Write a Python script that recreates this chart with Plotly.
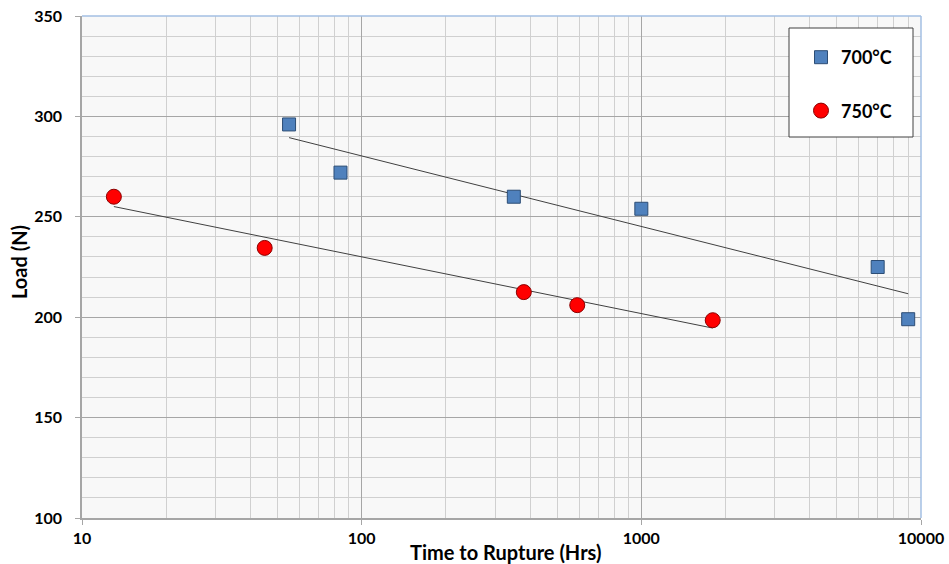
import numpy as np
import plotly.graph_objects as go

# ---- data ----
t700 = [55, 84, 350, 1000, 7000, 9000]
load700 = [296, 272, 260, 254, 225, 199]
t750 = [13, 45, 380, 590, 1800]
load750 = [260, 234.5, 212.5, 206, 198.5]
series_names = ["700°C", "750°C"]
x_ticks = [10, 100, 1000, 10000]
y_range = [100, 350]
x_title = "Time to Rupture (Hrs)"
y_title = "Load (N)"

FONT = "Lato"
W, H = 949, 564
ML, MR, MT, MB = 82, 28, 16, 46


def log_fit(x, y):
    lx = np.log(np.array(x, dtype=float))
    a, b = np.polyfit(lx, np.array(y, dtype=float), 1)
    xs = np.geomspace(min(x), max(x), 60)
    return xs, a * np.log(xs) + b


fig = go.Figure()

for x, y in [(t700, load700), (t750, load750)]:
    xs, ys = log_fit(x, y)
    fig.add_trace(go.Scatter(x=xs, y=ys, mode="lines",
                             line=dict(color="#404040", width=1),
                             showlegend=False, hoverinfo="skip"))

fig.add_trace(go.Scatter(x=t700, y=load700, mode="markers", name=series_names[0],
                         legendgroup="a",
                         marker=dict(symbol="square", size=13, color="#4f81bd",
                                     line=dict(color="#2c4d75", width=1))))
fig.add_trace(go.Scatter(x=t750, y=load750, mode="markers", name=series_names[1],
                         legendgroup="b",
                         marker=dict(symbol="circle", size=15, color="#ff0000",
                                     line=dict(color="#8b0000", width=1))))

pw = W - ML - MR
ph = H - MT - MB


def px2paper_x(px):
    return (px - ML) / pw


def px2paper_y(py):
    return (H - MB - py) / ph


# legend box
fig.add_shape(type="rect", xref="paper", yref="paper",
              x0=px2paper_x(789), x1=px2paper_x(913),
              y0=px2paper_y(137), y1=px2paper_y(28),
              fillcolor="white", line=dict(color="#404040", width=1), layer="above")
# top and right border in light blue
fig.add_shape(type="line", xref="paper", yref="paper", x0=0, x1=1, y0=1, y1=1,
              line=dict(color="#a3bfe3", width=1.5), layer="above")
fig.add_shape(type="line", xref="paper", yref="paper", x0=1, x1=1, y0=0, y1=1,
              line=dict(color="#a3bfe3", width=1.5), layer="above")

fig.add_annotation(text=x_title, xref="paper", yref="paper",
                   x=px2paper_x(505), y=px2paper_y(552), xanchor="center", yanchor="middle",
                   showarrow=False, font=dict(family=FONT, size=20, weight="bold"))
fig.add_annotation(text=y_title, xref="paper", yref="paper", textangle=-90,
                   x=px2paper_x(19), y=px2paper_y(262), xanchor="center", yanchor="middle",
                   showarrow=False, font=dict(family=FONT, size=20, weight="bold"))

fig.update_layout(
    width=W, height=H,
    margin=dict(l=ML, r=MR, t=MT, b=MB, pad=0, autoexpand=False),
    paper_bgcolor="white", plot_bgcolor="#f8f8f8",
    font=dict(family=FONT, size=16, color="#000000", weight="bold"),
    legend=dict(x=px2paper_x(801), y=px2paper_y(39), xanchor="left", yanchor="top",
                bgcolor="rgba(0,0,0,0)", borderwidth=0,
                font=dict(family=FONT, size=18, weight="bold"),
                tracegroupgap=27, traceorder="grouped"),
    showlegend=True,
)

fig.update_xaxes(
    type="log", range=[np.log10(x_ticks[0]), np.log10(x_ticks[-1])],
    tickvals=x_ticks, ticktext=[str(v) for v in x_ticks],
    showgrid=True, gridcolor="#a6a6a6", gridwidth=1,
    minor=dict(dtick="D1", showgrid=True, gridcolor="#d0d0d0", gridwidth=1, ticks=""),
    showline=True, linecolor="#a6a6a6", linewidth=1.5,
    ticks="outside", ticklen=5, tickcolor="#a6a6a6",
    ticklabelstandoff=0, automargin=False,
    tickfont=dict(family=FONT, size=16, weight="bold"),
    zeroline=False,
)
fig.update_yaxes(
    range=y_range, dtick=50, tick0=100,
    showgrid=True, gridcolor="#a6a6a6", gridwidth=1,
    minor=dict(dtick=10, showgrid=True, gridcolor="#d0d0d0", gridwidth=1, ticks=""),
    showline=True, linecolor="#a6a6a6", linewidth=1.5,
    ticks="outside", ticklen=5, tickcolor="#a6a6a6",
    ticklabelstandoff=10, automargin=False,
    tickfont=dict(family=FONT, size=16, weight="bold"),
    zeroline=False,
)

fig.write_html("out.html")
